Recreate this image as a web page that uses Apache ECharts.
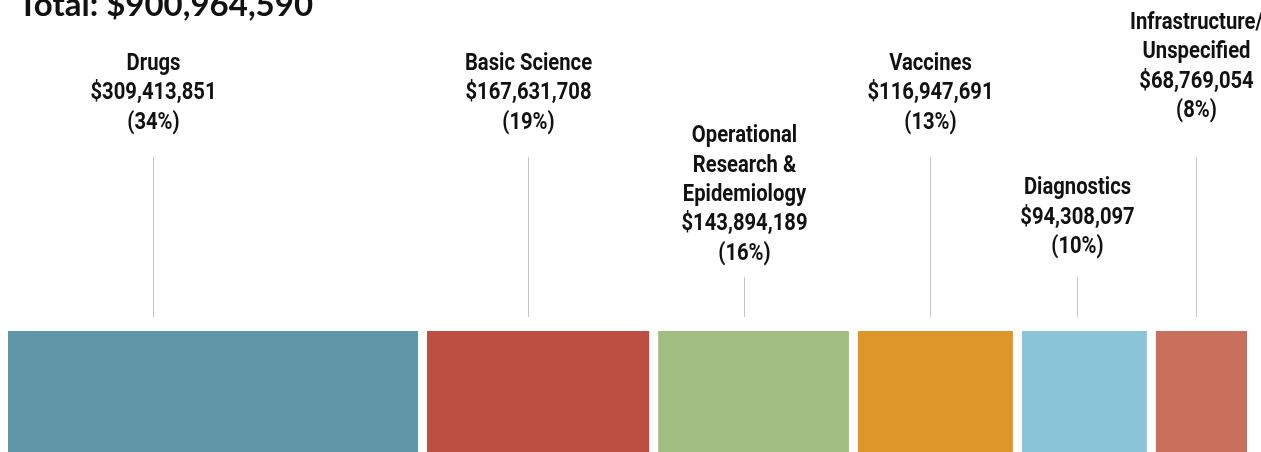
<!DOCTYPE html>
<html>
<head>
<meta charset="utf-8">
<script src="https://cdn.jsdelivr.net/npm/echarts@6/dist/echarts.min.js"></script>
<style>
html,body{margin:0;padding:0;background:#fff;}
#chart{width:1261px;height:452px;}
</style>
</head>
<body>
<div id="chart"></div>
<script>
// ---- data ----
const categories = ["Drugs", "Basic Science", "Operational\nResearch &\nEpidemiology", "Vaccines", "Diagnostics", "Infrastructure/\nUnspecified"];
const amounts = [309413851, 167631708, 143894189, 116947691, 94308097, 68769054];
const colors = ["#5f97a9", "#bc4e42", "#a2bd82", "#de9529", "#89c5d6", "#c9705d"];

// ---- layout (pixels) ----
const GAP = 9;
const labelTops = [49.5, 49.5, 122, 49.5, 174, 8.5];
const lineTops = [157, 157, 277, 157, 277, 157];
const labelDx = [-60, -10, -10, -5, -7, -5];
const LINE_BOTTOM = 317;
const LABEL_SCALE_X = 0.88;

const total = amounts.reduce((a, b) => a + b, 0);
const fmt = n => '$' + n.toLocaleString('en-US');
let cum = 0;
const seriesData = amounts.map((v, i) => { const d = [cum, v, i]; cum += v; return d; });

const chart = echarts.init(document.getElementById('chart'), null, {renderer: 'canvas'});
chart.setOption({
  animation: false,
  grid: {left: 8, width: 1239 - GAP * (amounts.length - 1), top: 331, bottom: 0},
  xAxis: {type: 'value', min: 0, max: total, show: false},
  yAxis: {type: 'value', min: 0, max: 1, show: false},
  graphic: [{
    type: 'text', left: 18, top: -11,
    style: {text: 'Total: ' + fmt(total), fontFamily: "Lato, 'Open Sans', sans-serif", fontWeight: 'bold', fontSize: 33, fill: '#111'}
  }],
  series: [{
    type: 'custom',
    data: seriesData,
    renderItem: function (params, api) {
      const i = api.value(2);
      const start = api.value(0), val = api.value(1);
      const x0 = api.coord([start, 0])[0] + i * GAP;
      const x1 = api.coord([start + val, 0])[0] + i * GAP;
      const cs = params.coordSys;
      const cx = Math.round((x0 + x1) / 2 + labelDx[i]) + 0.5;
      const pct = Math.round(val / total * 100);
      return {
        type: 'group',
        children: [
          {type: 'rect', shape: {x: x0, y: cs.y, width: x1 - x0, height: cs.height}, style: {fill: colors[i]}},
          {type: 'line', shape: {x1: cx, y1: lineTops[i], x2: cx, y2: LINE_BOTTOM}, style: {stroke: '#c4c4c4', lineWidth: 1}},
          {type: 'text', x: cx, y: labelTops[i], scaleX: LABEL_SCALE_X, style: {
            text: categories[i] + '\n' + fmt(val) + '\n(' + pct + '%)',
            fontFamily: 'Roboto, sans-serif', fontWeight: 'bold', fontSize: 23,
            fill: '#111', align: 'center', verticalAlign: 'top', lineHeight: 29.3
          }}
        ]
      };
    }
  }]
});
</script>
</body>
</html>
